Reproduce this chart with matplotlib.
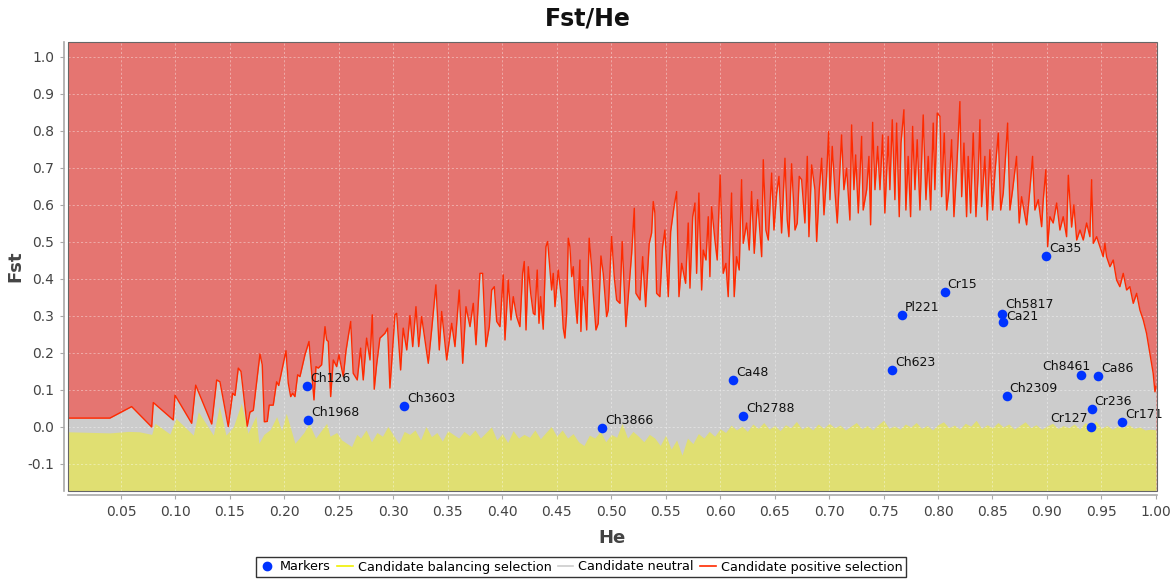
import matplotlib
matplotlib.use("Agg")
import matplotlib.pyplot as plt
from matplotlib.lines import Line2D
from matplotlib.patches import Rectangle

# upper boundary (candidate positive selection threshold)
he_up = [
    0.0014, 0.0399, 0.0598, 0.0782, 0.0797, 0.0980, 0.0996, 0.1149, 0.1186, 0.1333,
    0.1379, 0.1409, 0.1485, 0.1525, 0.1547, 0.1577, 0.1602, 0.1659, 0.1684, 0.1715,
    0.1776, 0.1797, 0.1816, 0.1843, 0.1861, 0.1898, 0.1929, 0.1948, 0.2015, 0.2036,
    0.2058, 0.2076, 0.2097, 0.2122, 0.2143, 0.2189, 0.2226, 0.2244, 0.2272, 0.2290,
    0.2311, 0.2342, 0.2373, 0.2388, 0.2403, 0.2425, 0.2449, 0.2480, 0.2501, 0.2510,
    0.2541, 0.2565, 0.2584, 0.2609, 0.2632, 0.2669, 0.2700, 0.2724, 0.2755, 0.2786,
    0.2807, 0.2825, 0.2847, 0.2877, 0.2923, 0.2948, 0.2969, 0.3015, 0.3031, 0.3067,
    0.3091, 0.3123, 0.3153, 0.3178, 0.3208, 0.3233, 0.3260, 0.3321, 0.3352, 0.3391,
    0.3422, 0.3444, 0.3490, 0.3536, 0.3566, 0.3605, 0.3637, 0.3667, 0.3704, 0.3734,
    0.3759, 0.3795, 0.3820, 0.3850, 0.3881, 0.3903, 0.3927, 0.3949, 0.3979, 0.4009,
    0.4025, 0.4055, 0.4080, 0.4101, 0.4132, 0.4162, 0.4187, 0.4202, 0.4218, 0.4239,
    0.4261, 0.4285, 0.4300, 0.4321, 0.4337, 0.4352, 0.4376, 0.4401, 0.4417, 0.4438,
    0.4453, 0.4468, 0.4484, 0.4514, 0.4545, 0.4560, 0.4575, 0.4591, 0.4606, 0.4621,
    0.4637, 0.4652, 0.4667, 0.4688, 0.4713, 0.4722, 0.4738, 0.4759, 0.4775, 0.4798,
    0.4820, 0.4835, 0.4860, 0.4881, 0.4906, 0.4927, 0.4958, 0.4973, 0.5004, 0.5028,
    0.5050, 0.5080, 0.5101, 0.5135, 0.5166, 0.5188, 0.5212, 0.5227, 0.5264, 0.5289,
    0.5316, 0.5349, 0.5371, 0.5386, 0.5401, 0.5417, 0.5447, 0.5472, 0.5493, 0.5524,
    0.5546, 0.5564, 0.5579, 0.5601, 0.5622, 0.5647, 0.5683, 0.5707, 0.5723, 0.5748,
    0.5769, 0.5784, 0.5805, 0.5830, 0.5845, 0.5870, 0.5891, 0.5906, 0.5922, 0.5952,
    0.5973, 0.6000, 0.6028, 0.6053, 0.6074, 0.6105, 0.6129, 0.6151, 0.6175, 0.6197,
    0.6212, 0.6243, 0.6267, 0.6289, 0.6313, 0.6344, 0.6381, 0.6396, 0.6420, 0.6442,
    0.6473, 0.6494, 0.6519, 0.6540, 0.6564, 0.6595, 0.6616, 0.6631, 0.6656, 0.6687,
    0.6708, 0.6726, 0.6748, 0.6778, 0.6800, 0.6815, 0.6840, 0.6870, 0.6886, 0.6910,
    0.6932, 0.6953, 0.6977, 0.6996, 0.7008, 0.7029, 0.7054, 0.7075, 0.7115, 0.7136,
    0.7161, 0.7191, 0.7207, 0.7228, 0.7244, 0.7268, 0.7299, 0.7313, 0.7345, 0.7366,
    0.7381, 0.7400, 0.7421, 0.7446, 0.7467, 0.7491, 0.7512, 0.7543, 0.7558, 0.7580,
    0.7604, 0.7620, 0.7644, 0.7660, 0.7687, 0.7705, 0.7726, 0.7748, 0.7767, 0.7788,
    0.7809, 0.7834, 0.7864, 0.7889, 0.7910, 0.7932, 0.7956, 0.7971, 0.7993, 0.8018,
    0.8033, 0.8057, 0.8079, 0.8100, 0.8125, 0.8146, 0.8171, 0.8201, 0.8217, 0.8238,
    0.8262, 0.8277, 0.8299, 0.8323, 0.8348, 0.8369, 0.8385, 0.8400, 0.8430, 0.8452,
    0.8476, 0.8501, 0.8522, 0.8553, 0.8575, 0.8599, 0.8639, 0.8660, 0.8685, 0.8721,
    0.8745, 0.8767, 0.8813, 0.8843, 0.8868, 0.8889, 0.8920, 0.8951, 0.8966, 0.8990,
    0.9006, 0.9027, 0.9057, 0.9089, 0.9119, 0.9149, 0.9180, 0.9196, 0.9226, 0.9247,
    0.9273, 0.9303, 0.9333, 0.9364, 0.9394, 0.9410, 0.9425, 0.9456, 0.9486, 0.9516,
    0.9532, 0.9547, 0.9578, 0.9608, 0.9639, 0.9669, 0.9700, 0.9731, 0.9761, 0.9792,
    0.9823, 0.9853, 0.9884, 0.9914, 0.9945, 0.9975, 0.9991, 1.0000,
]
fst_up = [
    0.024, 0.024, 0.055, 0.000, 0.066, 0.019, 0.086, 0.010, 0.113, 0.008,
    0.127, 0.122, 0.001, 0.091, 0.085, 0.159, 0.150, 0.002, 0.040, 0.045,
    0.197, 0.168, 0.014, 0.015, 0.059, 0.059, 0.122, 0.112, 0.206, 0.118,
    0.082, 0.091, 0.082, 0.141, 0.136, 0.195, 0.231, 0.168, 0.073, 0.163,
    0.159, 0.168, 0.271, 0.235, 0.231, 0.082, 0.181, 0.163, 0.195, 0.181,
    0.136, 0.204, 0.240, 0.285, 0.145, 0.127, 0.213, 0.127, 0.240, 0.181,
    0.303, 0.102, 0.168, 0.240, 0.253, 0.267, 0.105, 0.303, 0.307, 0.154,
    0.267, 0.208, 0.301, 0.217, 0.325, 0.217, 0.298, 0.172, 0.262, 0.384,
    0.208, 0.312, 0.181, 0.280, 0.217, 0.370, 0.172, 0.325, 0.271, 0.334,
    0.222, 0.415, 0.415, 0.217, 0.271, 0.370, 0.379, 0.285, 0.271, 0.411,
    0.235, 0.397, 0.289, 0.352, 0.298, 0.271, 0.415, 0.447, 0.262, 0.433,
    0.361, 0.307, 0.303, 0.424, 0.280, 0.352, 0.264, 0.487, 0.501, 0.424,
    0.370, 0.415, 0.325, 0.424, 0.343, 0.267, 0.240, 0.307, 0.510, 0.487,
    0.406, 0.433, 0.352, 0.280, 0.451, 0.258, 0.379, 0.334, 0.262, 0.510,
    0.433, 0.361, 0.262, 0.280, 0.462, 0.415, 0.298, 0.316, 0.515, 0.406,
    0.343, 0.334, 0.501, 0.271, 0.388, 0.469, 0.591, 0.361, 0.343, 0.460,
    0.325, 0.496, 0.524, 0.609, 0.578, 0.361, 0.352, 0.487, 0.532, 0.352,
    0.528, 0.568, 0.600, 0.636, 0.352, 0.442, 0.388, 0.551, 0.375, 0.568,
    0.605, 0.415, 0.632, 0.370, 0.478, 0.451, 0.568, 0.406, 0.595, 0.505,
    0.451, 0.681, 0.415, 0.442, 0.352, 0.632, 0.352, 0.460, 0.424, 0.668,
    0.496, 0.551, 0.478, 0.636, 0.469, 0.614, 0.460, 0.722, 0.532, 0.505,
    0.686, 0.532, 0.632, 0.677, 0.524, 0.726, 0.559, 0.514, 0.711, 0.532,
    0.551, 0.677, 0.668, 0.551, 0.731, 0.514, 0.708, 0.641, 0.501, 0.641,
    0.726, 0.573, 0.677, 0.798, 0.614, 0.758, 0.636, 0.551, 0.789, 0.641,
    0.699, 0.559, 0.816, 0.641, 0.735, 0.578, 0.785, 0.586, 0.641, 0.731,
    0.546, 0.823, 0.641, 0.758, 0.641, 0.789, 0.578, 0.785, 0.641, 0.830,
    0.614, 0.821, 0.568, 0.767, 0.857, 0.586, 0.731, 0.568, 0.812, 0.641,
    0.776, 0.586, 0.843, 0.614, 0.731, 0.586, 0.821, 0.641, 0.848, 0.839,
    0.622, 0.794, 0.586, 0.641, 0.776, 0.568, 0.695, 0.879, 0.622, 0.767,
    0.568, 0.731, 0.578, 0.794, 0.568, 0.686, 0.830, 0.595, 0.731, 0.559,
    0.749, 0.586, 0.686, 0.794, 0.586, 0.632, 0.821, 0.586, 0.641, 0.731,
    0.551, 0.622, 0.546, 0.641, 0.731, 0.586, 0.614, 0.541, 0.614, 0.695,
    0.487, 0.568, 0.551, 0.605, 0.532, 0.568, 0.514, 0.680, 0.540, 0.600,
    0.505, 0.532, 0.505, 0.551, 0.514, 0.668, 0.496, 0.514, 0.487, 0.460,
    0.496, 0.460, 0.433, 0.451, 0.397, 0.379, 0.415, 0.370, 0.379, 0.334,
    0.361, 0.316, 0.289, 0.253, 0.199, 0.145, 0.095, 0.110,
]

# lower boundary (candidate balancing selection threshold)
he_low = [
    0.0014, 0.0399, 0.0567, 0.0668, 0.0782, 0.0812, 0.0950, 0.1005, 0.1164, 0.1210,
    0.1348, 0.1403, 0.1464, 0.1531, 0.1605, 0.1666, 0.1739, 0.1766, 0.1812, 0.1870,
    0.1929, 0.1975, 0.2017, 0.2097, 0.2179, 0.2226, 0.2287, 0.2388, 0.2419, 0.2480,
    0.2526, 0.2617, 0.2665, 0.2700,
    0.275, 0.280, 0.285, 0.290, 0.295, 0.300, 0.305, 0.310, 0.315, 0.320,
    0.325, 0.330, 0.335, 0.340, 0.345, 0.350, 0.355, 0.360, 0.365, 0.370,
    0.375, 0.380, 0.385, 0.390, 0.395, 0.400, 0.405, 0.410, 0.415, 0.420,
    0.425, 0.430, 0.435, 0.440, 0.445, 0.450, 0.455, 0.460, 0.465, 0.470,
    0.475, 0.480, 0.485, 0.490, 0.495, 0.500, 0.505, 0.510, 0.515, 0.520,
    0.525, 0.530, 0.535, 0.540, 0.545, 0.550, 0.555, 0.560, 0.565, 0.570,
    0.575, 0.580, 0.585, 0.590, 0.595, 0.600, 0.605, 0.610, 0.615, 0.620,
    0.625, 0.630, 0.635, 0.640, 0.645, 0.650, 0.655, 0.660, 0.665, 0.670,
    0.675, 0.680, 0.685, 0.690, 0.695, 0.700, 0.705, 0.710, 0.715, 0.720,
    0.725, 0.730, 0.735, 0.740, 0.745, 0.750, 0.755, 0.760, 0.765, 0.770,
    0.775, 0.780, 0.785, 0.790, 0.795, 0.800, 0.805, 0.810, 0.815, 0.820,
    0.825, 0.830, 0.835, 0.840, 0.845, 0.850, 0.855, 0.860, 0.865, 0.870,
    0.875, 0.880, 0.885, 0.890, 0.895, 0.900, 0.905, 0.910, 0.915, 0.920,
    0.925, 0.930, 0.935, 0.940, 0.945, 0.950, 0.955, 0.960, 0.965, 0.970,
    0.975, 0.980, 0.985, 0.990, 0.995, 1.000,
]
fst_low = [
    -0.013, -0.016, -0.012, -0.013, -0.020, 0.010, -0.019, 0.023, -0.022, 0.041,
    -0.022, 0.055, -0.022, 0.000, 0.064, -0.017, 0.030, -0.044, -0.020, -0.007,
    0.028, -0.010, 0.037, -0.044, -0.015, 0.010, -0.030, 0.010, -0.025, -0.015,
    -0.035, -0.053, -0.020, -0.030,
    -0.008, -0.040, -0.015, -0.025, 0.001, -0.022, -0.045, -0.012, -0.020, -0.008,
    -0.035, 0.001, -0.026, -0.015, -0.038, -0.010, -0.020, -0.030, -0.012, -0.024,
    -0.008, -0.030, -0.015, 0.000, -0.035, -0.018, -0.042, -0.010, -0.030, -0.020,
    -0.028, -0.008, -0.032, -0.015, 0.001, -0.025, -0.008, -0.030, -0.018, -0.040,
    -0.050, -0.022, -0.030, -0.012, -0.040, -0.020, -0.028, 0.010, -0.030, -0.012,
    -0.025, -0.040, -0.020, -0.030, -0.050, -0.022, -0.060, -0.035, -0.076, -0.030,
    -0.045, -0.018, -0.030, -0.012, -0.025, -0.005, -0.015, 0.005, -0.008, 0.002,
    -0.012, 0.008, -0.004, 0.012, -0.006, 0.004, -0.010, 0.006, -0.002, 0.015,
    -0.006, 0.003, -0.008, 0.008, -0.004, 0.010, -0.002, 0.005, -0.008, 0.002,
    0.012, -0.005, 0.004, -0.008, 0.006, 0.018, -0.004, 0.003, -0.006, 0.008,
    0.000, 0.012, -0.004, 0.004, -0.008, 0.006, 0.014, -0.002, 0.005, -0.006,
    0.010, 0.002, 0.018, -0.004, 0.006, -0.002, 0.012, 0.000, 0.008, -0.006,
    0.004, 0.014, -0.002, 0.006, -0.006, 0.002, 0.010, -0.004, 0.004, -0.002,
    0.008, -0.006, 0.012, 0.002, 0.016, -0.004, 0.004, -0.006, 0.002, -0.002,
    0.006, -0.004, 0.000, -0.008, -0.006, -0.008,
]

# markers
marker_names = ["Ch126", "Ch1968", "Ch3603", "Ch3866", "Ca48", "Ch2788", "Ch623", "Pl221",
                "Cr15", "Ch5817", "Ca21", "Ca35", "Ch2309", "Ch8461", "Ca86", "Cr236",
                "Cr127", "Cr171"]
marker_he = [0.221, 0.222, 0.310, 0.4915, 0.612, 0.621, 0.758, 0.767,
             0.806, 0.8587, 0.8595, 0.899, 0.863, 0.931, 0.947, 0.941,
             0.940, 0.969]
marker_fst = [0.112, 0.019, 0.057, -0.003, 0.127, 0.030, 0.154, 0.303,
              0.365, 0.304, 0.284, 0.461, 0.084, 0.141, 0.138, 0.049,
              0.000, 0.0135]
left_labels = {"Ch8461": (10, 5), "Cr127": (-3, 5)}
label_offsets = {"Ch5817": (3, 6), "Ca21": (3, 2)}

xticks = [0.05, 0.10, 0.15, 0.20, 0.25, 0.30, 0.35, 0.40, 0.45, 0.50,
          0.55, 0.60, 0.65, 0.70, 0.75, 0.80, 0.85, 0.90, 0.95, 1.00]
yticks = [-0.1, 0.0, 0.1, 0.2, 0.3, 0.4, 0.5, 0.6, 0.7, 0.8, 0.9, 1.0]

RED_FILL = "#e57571"
GREY_FILL = "#cccccc"
YELLOW_FILL = "#e0df72"
RED_LINE = "#ff2a00"
BLUE = "#0033ff"

plt.rcParams["font.family"] = ["DejaVu Sans"]

fig = plt.figure(figsize=(11.75, 5.79), dpi=100)
W, H = 1175, 579
ax = fig.add_axes([68 / W, 1 - 491 / H, (1157 - 68) / W, (491 - 42) / H])
ax.set_facecolor(RED_FILL)

ax.fill_between(he_up, -0.3, fst_up, color=GREY_FILL, lw=0, zorder=1)
ax.fill_between(he_low, -0.3, fst_low, color=YELLOW_FILL, lw=0, zorder=2)
ax.plot(he_up, fst_up, color=RED_LINE, lw=1.0, zorder=3)

ax.scatter(marker_he, marker_fst, s=48, color=BLUE, zorder=5, linewidths=0)
for name, x, y in zip(marker_names, marker_he, marker_fst):
    if name in left_labels:
        ax.annotate(name, (x, y), xytext=left_labels[name], textcoords="offset pixels",
                    ha="right", va="baseline", fontsize=9, color="#111111", zorder=6)
    else:
        ax.annotate(name, (x, y), xytext=label_offsets.get(name, (3, 4)),
                    textcoords="offset pixels", ha="left", va="baseline",
                    fontsize=9, color="#111111", zorder=6)

ax.set_xlim(0.0014, 1.001)
ax.set_ylim(-0.173, 1.04)
ax.set_xticks(xticks)
ax.set_xticklabels([f"{v:.2f}" for v in xticks])
ax.set_yticks(yticks)
ax.set_yticklabels([f"{v:.1f}" for v in yticks])

ax.grid(True, color="white", alpha=0.45, lw=0.6, linestyle=(0, (2.5, 2.5)), zorder=4)
ax.set_axisbelow(False)

for s in ("top", "right"):
    ax.spines[s].set_visible(False)
for s in ("left", "bottom"):
    ax.spines[s].set_position(("outward", 3))
    ax.spines[s].set_color("#a8a8a8")
    ax.spines[s].set_linewidth(1.2)
ax.add_patch(Rectangle((0, 0), 1, 1, transform=ax.transAxes, fill=False,
                       edgecolor="#666666", lw=0.8, zorder=7, clip_on=False))
ax.tick_params(length=3, color="#a8a8a8", labelcolor="#444444", labelsize=10, pad=4)

ax.set_xlabel("He", fontsize=13, fontweight="bold", color="#444444", labelpad=7)
ax.set_ylabel("Fst", fontsize=13, fontweight="bold", color="#444444", labelpad=2)
fig.text(0.5, 1 - 18 / H, "Fst/He", ha="center", va="center", fontsize=17,
         fontweight="bold", color="#111111")

handles = [
    Line2D([], [], marker="o", color=BLUE, linestyle="none", markersize=6),
    Line2D([], [], color="#f0f000", lw=1.2),
    Line2D([], [], color="#cccccc", lw=1.2),
    Line2D([], [], color=RED_LINE, lw=1.2),
]
labels = ["Markers", "Candidate balancing selection", "Candidate neutral",
          "Candidate positive selection"]
leg = fig.legend(handles, labels, loc="center", bbox_to_anchor=(581 / W, 1 - 567 / H),
                 ncol=4, frameon=True, fancybox=False, edgecolor="black", fontsize=9.2,
                 handlelength=1.2, handletextpad=0.4, columnspacing=0.5, borderpad=0.25)
leg.get_frame().set_linewidth(1.0)

fig.savefig("out.png", dpi=100)
